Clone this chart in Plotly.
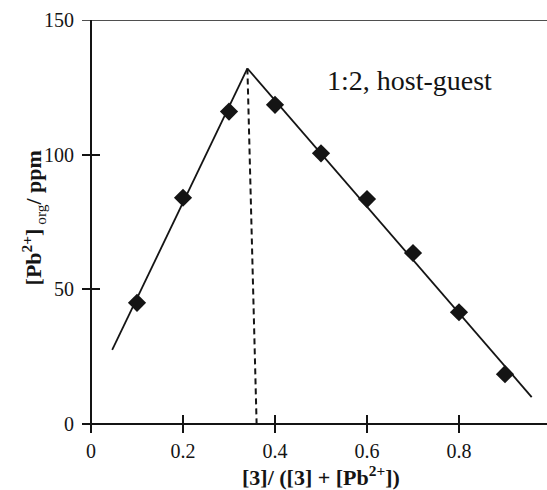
import plotly.graph_objects as go

# Measured data (mole fraction vs. [Pb2+]org / ppm)
mole_fraction = [0.1, 0.2, 0.3, 0.4, 0.5, 0.6, 0.7, 0.8, 0.9]
pb_org_ppm = [45, 84, 116, 118.5, 100.5, 83.5, 63.5, 41.5, 18.5]

# Fitted straight lines (left branch, right branch) and the dashed drop line
fit_left_x = [0.046, 0.34]
fit_left_y = [27.5, 132]
fit_right_x = [0.34, 0.958]
fit_right_y = [132, 10]
drop_x = [0.34, 0.36]
drop_y = [132, 0]

x_ticks = [0, 0.2, 0.4, 0.6, 0.8]
x_tick_text = ["0", "0.2", "0.4", "0.6", "0.8"]
y_ticks = [0, 50, 100, 150]
y_tick_text = ["0", "50", "100", "150"]

INK = "#141414"
SERIF = "Liberation Serif, Times New Roman, serif"

fig = go.Figure()
fig.add_trace(go.Scatter(x=fit_left_x, y=fit_left_y, mode="lines",
                         line=dict(color=INK, width=1.8), showlegend=False))
fig.add_trace(go.Scatter(x=fit_right_x, y=fit_right_y, mode="lines",
                         line=dict(color=INK, width=1.8), showlegend=False))
fig.add_trace(go.Scatter(x=drop_x, y=drop_y, mode="lines",
                         line=dict(color=INK, width=2, dash="6px,4px"), showlegend=False))
fig.add_trace(go.Scatter(x=mole_fraction, y=pb_org_ppm, mode="markers",
                         marker=dict(symbol="diamond", size=14, color=INK,
                                     line=dict(width=0)), showlegend=False))

fig.update_layout(
    width=547, height=490,
    margin=dict(l=82, r=0, t=20, b=57),
    paper_bgcolor="white", plot_bgcolor="white",
    font=dict(family=SERIF, size=20, color=INK),
    xaxis=dict(range=[-0.0196, 0.9913], showgrid=False, showline=False,
               zeroline=True, zerolinecolor=INK, zerolinewidth=2,
               tickmode="array", tickvals=x_ticks, ticktext=x_tick_text,
               ticks="inside", ticklen=18, tickwidth=1.5, tickcolor=INK,
               ticklabelstandoff=4,
               tickfont=dict(family=SERIF, size=20, color=INK)),
    yaxis=dict(range=[-3.34, 150], showgrid=False, showline=False,
               zeroline=True, zerolinecolor=INK, zerolinewidth=2,
               tickmode="array", tickvals=y_ticks, ticktext=y_tick_text,
               ticks="inside", ticklen=18, tickwidth=1.5, tickcolor=INK,
               ticklabelstandoff=7,
               tickfont=dict(family=SERIF, size=20, color=INK)),
    shapes=[dict(type="line", xref="paper", yref="y", x0=0, x1=1, y0=150, y1=150,
                 line=dict(color=INK, width=1.5))],
    annotations=[
        dict(text="1:2, host-guest", xref="x", yref="y", x=0.693, y=127.4,
             showarrow=False, xanchor="center", yanchor="middle",
             font=dict(family=SERIF, size=28, color=INK)),
        dict(text="<b>[3]/ ([3] + [Pb<sup>2+</sup>])</b>", xref="paper", yref="paper",
             x=0.514, y=-0.103, showarrow=False, xanchor="center", yanchor="middle",
             font=dict(family=SERIF, size=22, color=INK)),
        dict(text="<b>[Pb<sup>2+</sup>]</b><sub> org</sub><b>/ ppm</b>", xref="paper", yref="paper",
             x=-0.105, y=0.52, showarrow=False, xanchor="center", yanchor="middle",
             textangle=-90,
             font=dict(family=SERIF, size=22, color=INK)),
    ],
)

fig.write_html("out.html")
